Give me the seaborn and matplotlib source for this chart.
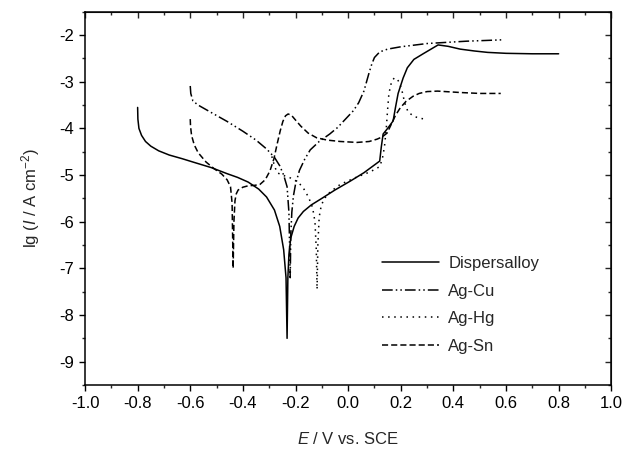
import matplotlib
matplotlib.use('Agg')
import matplotlib.pyplot as plt
import seaborn as sns
import pandas as pd
from matplotlib.ticker import MultipleLocator

# polarisation curves
disp_E = [-0.80, -0.799, -0.795, -0.785, -0.77, -0.75, -0.72, -0.68, -0.63, -0.59, -0.52, -0.46,
          -0.42, -0.38, -0.34, -0.31, -0.28, -0.26, -0.245, -0.236, -0.232,
          -0.229, -0.225, -0.218, -0.205, -0.19, -0.17, -0.14, -0.10, -0.05, 0.008, 0.06, 0.12,
          0.126, 0.133, 0.15, 0.171, 0.18, 0.19, 0.209, 0.225, 0.25, 0.285, 0.315, 0.342, 0.38,
          0.426, 0.48, 0.53, 0.60, 0.70, 0.80]
disp_lgI = [-3.55, -3.80, -4.00, -4.15, -4.28, -4.38, -4.48, -4.57, -4.65, -4.72, -4.84, -4.97,
            -5.05, -5.15, -5.30, -5.47, -5.75, -6.10, -6.60, -7.20, -8.50,
            -7.20, -6.70, -6.35, -6.10, -5.92, -5.78, -5.64, -5.50, -5.32, -5.13, -4.95, -4.70,
            -4.40, -4.12, -4.00, -3.84, -3.55, -3.25, -2.92, -2.70, -2.52, -2.40, -2.30, -2.21, -2.24,
            -2.30, -2.34, -2.37, -2.39, -2.40, -2.40]

agcu_E = [-0.60, -0.598, -0.59, -0.57, -0.52, -0.46, -0.40, -0.35, -0.31, -0.28, -0.26, -0.245,
          -0.232, -0.225, -0.22, -0.218, -0.214, -0.208, -0.20, -0.185, -0.165, -0.144, -0.11,
          -0.07, -0.04, -0.01, 0.02, 0.04, 0.06, 0.07, 0.08, 0.09, 0.10, 0.12, 0.15, 0.20, 0.30,
          0.45, 0.59]
agcu_lgI = [-3.09, -3.25, -3.41, -3.50, -3.66, -3.85, -4.06, -4.25, -4.44, -4.62, -4.80, -5.00,
            -5.25, -5.80, -7.20, -6.30, -5.80, -5.45, -5.20, -4.90, -4.66, -4.46, -4.28,
            -4.12, -3.98, -3.80, -3.62, -3.45, -3.20, -3.00, -2.80, -2.62, -2.48, -2.36, -2.30, -2.25, -2.18,
            -2.13, -2.10]

aghg_E = [-0.29, -0.28, -0.27, -0.25, -0.22, -0.19, -0.17, -0.15, -0.135, -0.126, -0.121, -0.118,
          -0.115, -0.11, -0.102, -0.09, -0.068, -0.03, 0.03, 0.084, 0.12, 0.13, 0.138, 0.145, 0.15,
          0.155, 0.165, 0.175, 0.185, 0.195, 0.205, 0.215, 0.228, 0.25, 0.27, 0.293]
aghg_lgI = [-4.60, -4.80, -4.95, -5.00, -5.06, -5.15, -5.28, -5.48, -5.70, -6.00, -6.60, -7.45,
            -6.50, -5.90, -5.65, -5.50, -5.36, -5.20, -5.05, -4.93, -4.82, -4.65, -4.40, -4.00, -3.60,
            -3.25, -3.00, -2.92, -2.93, -3.02, -3.20, -3.45, -3.65, -3.74, -3.78, -3.80]

agsn_E = [-0.60, -0.599, -0.595, -0.585, -0.57, -0.54, -0.51, -0.48, -0.46, -0.447, -0.441, -0.437,
          -0.434, -0.43, -0.425, -0.418, -0.40, -0.38, -0.355, -0.335, -0.315, -0.297, -0.282,
          -0.27, -0.258, -0.248, -0.238, -0.228, -0.215, -0.20, -0.18, -0.152, -0.12, -0.08,
          -0.03, 0.034, 0.08, 0.11, 0.13, 0.148, 0.165, 0.18, 0.198, 0.22, 0.247, 0.27, 0.30,
          0.34, 0.426, 0.50, 0.58]
agsn_lgI = [-3.80, -3.95, -4.15, -4.35, -4.52, -4.72, -4.86, -4.98, -5.10, -5.25, -5.60, -7.00,
            -6.00, -5.55, -5.40, -5.32, -5.26, -5.23, -5.22, -5.20, -5.10, -4.91, -4.65,
            -4.34, -4.05, -3.85, -3.73, -3.69, -3.72, -3.82, -3.95, -4.10, -4.20, -4.25,
            -4.28, -4.30, -4.28, -4.23, -4.18, -4.10, -3.90, -3.72, -3.56, -3.42, -3.31, -3.25, -3.21,
            -3.20, -3.23, -3.25, -3.25]

labels = ['Dispersalloy', 'Ag-Cu', 'Ag-Hg', 'Ag-Sn']
dashes = ['', (7, 2, 1, 2, 1, 2), (1, 3), (4, 2)]

sns.set_style('ticks')
plt.rcParams['font.family'] = ['Liberation Sans', 'DejaVu Sans']
plt.rcParams['mathtext.fontset'] = 'custom'
plt.rcParams['mathtext.rm'] = 'Liberation Sans'
plt.rcParams['mathtext.it'] = 'Liberation Sans:italic'
plt.rcParams['axes.unicode_minus'] = False

fig = plt.figure(figsize=(6.25, 4.54), dpi=100)
ax = fig.add_axes([0.136, 0.152, 0.842, 0.822])

series = [(disp_E, disp_lgI), (agcu_E, agcu_lgI), (aghg_E, aghg_lgI), (agsn_E, agsn_lgI)]
for (E, lgI), lab, ds in zip(series, labels, dashes):
    df = pd.DataFrame({'E': E, 'lgI': lgI})
    line_kw = dict(color='black', linewidth=1.1)
    if ds:
        line_kw['dashes'] = ds
    sns.lineplot(data=df, x='E', y='lgI', sort=False, estimator=None, ax=ax, label=lab, **line_kw)

ax.set_xlim(-1.0, 1.0)
ax.set_ylim(-9.5, -1.5)
ax.xaxis.set_major_locator(MultipleLocator(0.2))
ax.xaxis.set_minor_locator(MultipleLocator(0.1))
ax.yaxis.set_major_locator(MultipleLocator(1))
ax.yaxis.set_minor_locator(MultipleLocator(0.5))
ax.set_xticklabels([f'{v:.1f}' for v in ax.get_xticks()])
ax.tick_params(which='major', direction='out', length=4.5, width=1, labelsize=12, colors='black')
ax.tick_params(which='minor', direction='out', length=2.5, width=1)
for s in ax.spines.values():
    s.set_linewidth(1.1)
    s.set_color('black')

# mirrored ticks pointing inward on the top and right
top = ax.secondary_xaxis('top')
top.xaxis.set_major_locator(MultipleLocator(0.2))
top.xaxis.set_minor_locator(MultipleLocator(0.1))
top.tick_params(which='major', direction='in', length=4.5, width=1, labeltop=False)
top.tick_params(which='minor', direction='in', length=2.5, width=1)
right = ax.secondary_yaxis('right')
right.yaxis.set_major_locator(MultipleLocator(1))
right.yaxis.set_minor_locator(MultipleLocator(0.5))
right.tick_params(which='major', direction='in', length=4.5, width=1, labelright=False)
right.tick_params(which='minor', direction='in', length=2.5, width=1)

ax.set_xlabel('$E$ / V vs. SCE', fontsize=12, labelpad=14)
ax.set_ylabel('lg ($I$ / A cm$^{-2}$)', fontsize=12, labelpad=12)

ax.legend(loc='upper left', bbox_to_anchor=(0.565, 0.345), frameon=False, fontsize=12,
          handlelength=3.4, handletextpad=0.55, labelspacing=0.75, borderpad=0, borderaxespad=0)

fig.savefig('out.png', dpi=100)
